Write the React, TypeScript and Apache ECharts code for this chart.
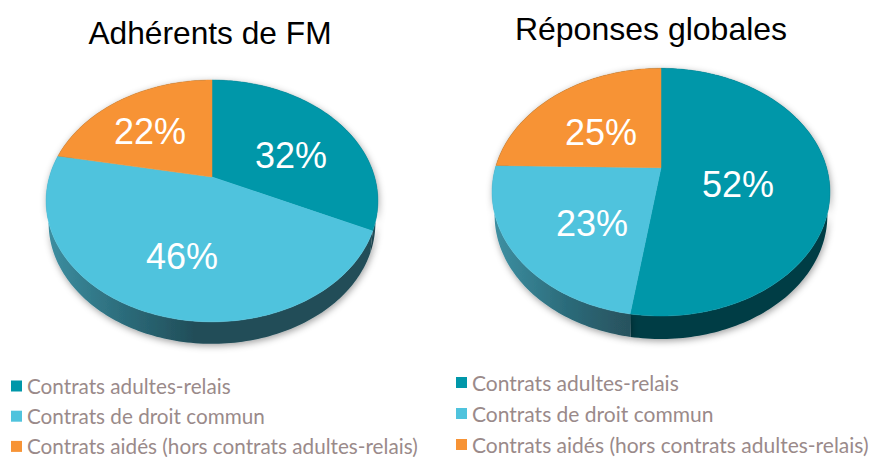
import React, { useEffect, useRef } from "react";
import * as echarts from "echarts";

const categories = ["Contrats adultes-relais", "Contrats de droit commun", "Contrats aidés (hors contrats adultes-relais)"];
const chartTitles = ["Adhérents de FM", "Réponses globales"];
const membersValues = [32, 46, 22];
const globalValues = [52.4, 22.9, 24.7];

const sliceColors = ["#0097a9", "#4fc3dd", "#f79335"];
const FONT = "'Liberation Sans', Arial, sans-serif";

type Pie = {
  title: string; values: number[];
  apexX: number; apexY: number; a: number; b: number; k: number; depth: number;
  labels: number[][]; titleX: number; titleY: number; titleSize: number;
  sideFill: any[]; legendX: number; legendY: number; legendSize: number; legendGap: number;
};

const globalGrad = (x0: number, x1: number, stops: string[]) =>
  new echarts.graphic.LinearGradient(x0, 0, x1, 0, stops.map((color, i) => ({ offset: i / (stops.length - 1), color })), true);

const pies: Pie[] = [
  {
    title: chartTitles[0], values: membersValues,
    apexX: 212, apexY: 177, a: 162.6, b: 81.1, k: -0.198, depth: 22,
    labels: [[79, -22], [-30, 79], [-62, -46]],
    titleX: 205, titleY: 28, titleSize: 31.7,
    sideFill: ["#214d58", globalGrad(50, 196, ["#3c8d9f", "#2c6c7b", "#214d58"]), "#214d58"],
    legendX: 11, legendY: 375.5, legendSize: 20.7, legendGap: 9.2,
  },
  {
    title: chartTitles[1], values: globalValues,
    apexX: 661, apexY: 167.7, a: 165.6, b: 85.9, k: -0.1974, depth: 23,
    labels: [[77, 17], [-69, 56], [-60, -35]],
    titleX: 646, titleY: 24, titleSize: 32,
    sideFill: ["#023c45", globalGrad(500, 629, ["#3c8d9f", "#2c6c7b", "#28525e"]), "#023c45"],
    legendX: 456, legendY: 372, legendSize: 21, legendGap: 10,
  },
];

// The projection of a circle seen in perspective: the apex sits above the ellipse's centre.
function project(p: Pie, theta: number, r = 1): number[] {
  const u = Math.sin(theta) * r;
  const v = -Math.cos(theta) * r;
  const d = 1 + p.k * v;
  return [p.apexX + (p.a * u) / d, (p.apexY + p.b * v) / d];
}

function arc(p: Pie, t0: number, t1: number): number[][] {
  const n = Math.max(2, Math.ceil(Math.abs(t1 - t0) / 0.02));
  const pts: number[][] = [];
  for (let i = 0; i <= n; i++) pts.push(project(p, t0 + ((t1 - t0) * i) / n));
  return pts;
}

const toAngle = (share: number, total: number) => (share / total) * Math.PI * 2;

function topSeries(p: Pie, idx: number) {
  const total = p.values.reduce((s, v) => s + v, 0);
  const start = p.values.slice(0, idx).reduce((s, v) => s + v, 0);
  return {
    type: "custom", name: categories[idx], coordinateSystem: "none", z: 3, silent: true,
    itemStyle: { color: sliceColors[idx] },
    data: [[p.values[idx], start]],
    renderItem: (_: any, api: any) => {
      const value = api.value(0), from = api.value(1);
      const t0 = toAngle(from, total), t1 = toAngle(from + value, total);
      const points = [[p.apexX, p.apexY], ...arc(p, t0, t1)];
      return {
        type: "group",
        children: [
          { type: "polygon", shape: { points }, style: { fill: sliceColors[idx], stroke: sliceColors[idx], lineWidth: 0.5 } },
          {
            type: "text", z2: 10,
            style: {
              text: `${Math.round(value)}%`, x: p.apexX + p.labels[idx][0], y: p.apexY + p.labels[idx][1],
              fill: "#ffffff", fontSize: 36, fontFamily: FONT, align: "center", verticalAlign: "middle",
            },
          },
        ],
      };
    },
  };
}

function sideSeries(p: Pie) {
  const total = p.values.reduce((s, v) => s + v, 0);
  const starts = p.values.map((_, i) => p.values.slice(0, i).reduce((s, v) => s + v, 0));
  const cx = p.apexX;
  return {
    type: "custom", coordinateSystem: "none", z: 2, silent: true,
    data: p.values.map((v, i) => [v, starts[i]]),
    renderItem: (params: any, api: any) => {
      const i = params.dataIndex;
      const t0 = toAngle(api.value(1), total), t1 = toAngle(api.value(1) + api.value(0), total);
      const upper = arc(p, t0, t1);
      const lower = upper.map(([x, y]) => [cx + (x - cx) * 0.985, y + p.depth]).reverse();
      return {
        type: "polygon",
        shape: { points: [...upper, ...lower] },
        style: {
          fill: p.sideFill[i],
          shadowBlur: 7, shadowColor: "rgba(0,0,0,0.38)", shadowOffsetX: 1, shadowOffsetY: 2,
        },
      };
    },
  };
}

export default function App() {
  const ref = useRef<HTMLDivElement>(null);
  useEffect(() => {
    document.body.style.margin = "0";
    const chart = echarts.init(ref.current!, undefined, { renderer: "svg" });
    chart.setOption({
      animation: false,
      backgroundColor: "#ffffff",
      title: pies.map((p) => ({
        text: p.title, left: p.titleX, top: p.titleY, textAlign: "center", textVerticalAlign: "middle",
        textStyle: { color: "#000000", fontSize: p.titleSize, fontWeight: "normal", fontFamily: FONT },
      })),
      legend: pies.map((p) => ({
        data: categories, left: p.legendX, top: p.legendY, height: 120, orient: "vertical", icon: "rect",
        itemWidth: 11, itemHeight: 11, itemGap: p.legendGap, padding: 0, selectedMode: false,
        textStyle: { color: "#9a8a8a", fontSize: p.legendSize, fontFamily: "Lato, sans-serif" },
      })),
      series: pies.flatMap((p) => [sideSeries(p), ...p.values.map((_, i) => topSeries(p, i))]),
    });
    return () => chart.dispose();
  }, []);
  return <div ref={ref} style={{ position: "absolute", left: 0, top: 0, width: 873, height: 457 }} />;
}
